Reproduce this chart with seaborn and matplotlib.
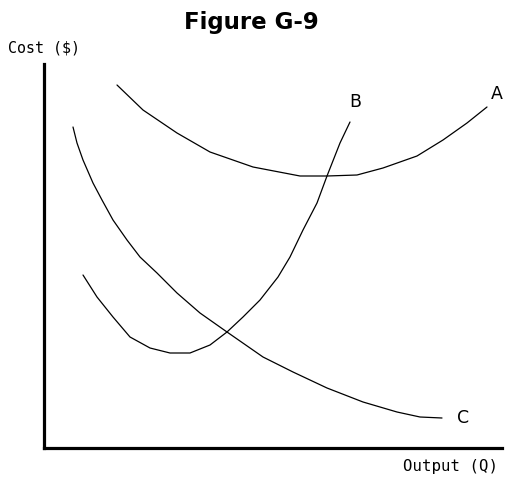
import matplotlib
matplotlib.use("Agg")
import matplotlib.pyplot as plt
import seaborn as sns
import pandas as pd

# Curve A (U-shaped, upper)
a_x = [73, 99, 133, 166, 209, 256, 283, 313, 339, 373, 399, 423, 443]
a_y = [363, 338, 315, 296, 281, 272, 272, 273, 280, 292, 308, 325, 341]

# Curve B (U-shaped, steep rise)
b_x = [39, 53, 69, 86, 106, 126, 146, 166, 183, 199, 216, 234, 246, 259, 273, 283, 296, 306]
b_y = [173, 151, 131, 111, 100, 95, 95, 103, 116, 131, 148, 171, 191, 218, 245, 272, 305, 326]

# Curve C (declining)
c_x = [29, 33, 39, 49, 58, 69, 83, 96, 113, 133, 156, 183, 219, 249, 283, 319, 353, 376, 398]
c_y = [321, 305, 288, 265, 248, 228, 208, 191, 175, 155, 135, 116, 91, 76, 60, 46, 36, 31, 30]

curve_labels = ["A", "B", "C"]
title = "Figure G-9"
y_label = "Cost ($)"
x_label = "Output (Q)"

sns.set_style("white")
plt.rcParams['font.family'] = ['DejaVu Sans']
plt.rcParams['text.color'] = 'black'

fig = plt.figure(figsize=(5.06, 4.78), dpi=100)
ax = fig.add_axes([44/506, 30/478, 458/506, 384/478])

for xs, ys in [(a_x, a_y), (b_x, b_y), (c_x, c_y)]:
    df = pd.DataFrame({"x": xs, "y": ys})
    sns.lineplot(data=df, x="x", y="y", ax=ax, color="black", linewidth=0.9,
                 sort=False, estimator=None)

ax.set_xlim(0, 458)
ax.set_ylim(0, 384)
ax.set_xticks([])
ax.set_yticks([])
ax.set_xlabel("")
ax.set_ylabel("")
for s in ["top", "right"]:
    ax.spines[s].set_visible(False)
for s in ["left", "bottom"]:
    ax.spines[s].set_linewidth(2.3)
    ax.spines[s].set_color("black")

lab_kw = dict(fontsize=12.5, ha="center", va="center", color="black")
ax.text(453, 354, curve_labels[0], **lab_kw)
ax.text(311, 346, curve_labels[1], **lab_kw)
ax.text(419, 30, curve_labels[2], **lab_kw)

fig.text(251/506, 1 - 22/478, title, fontsize=16.5, fontweight="bold",
         ha="center", va="center", color="black")
fig.text(8/506, 1 - 48/478, y_label, fontsize=10.8, family="DejaVu Sans Mono",
         ha="left", va="center", color="black")
fig.text(498/506, 1 - 467/478, x_label, fontsize=11.3, family="DejaVu Sans Mono",
         ha="right", va="center", color="black")

fig.savefig("out.png", dpi=100)
